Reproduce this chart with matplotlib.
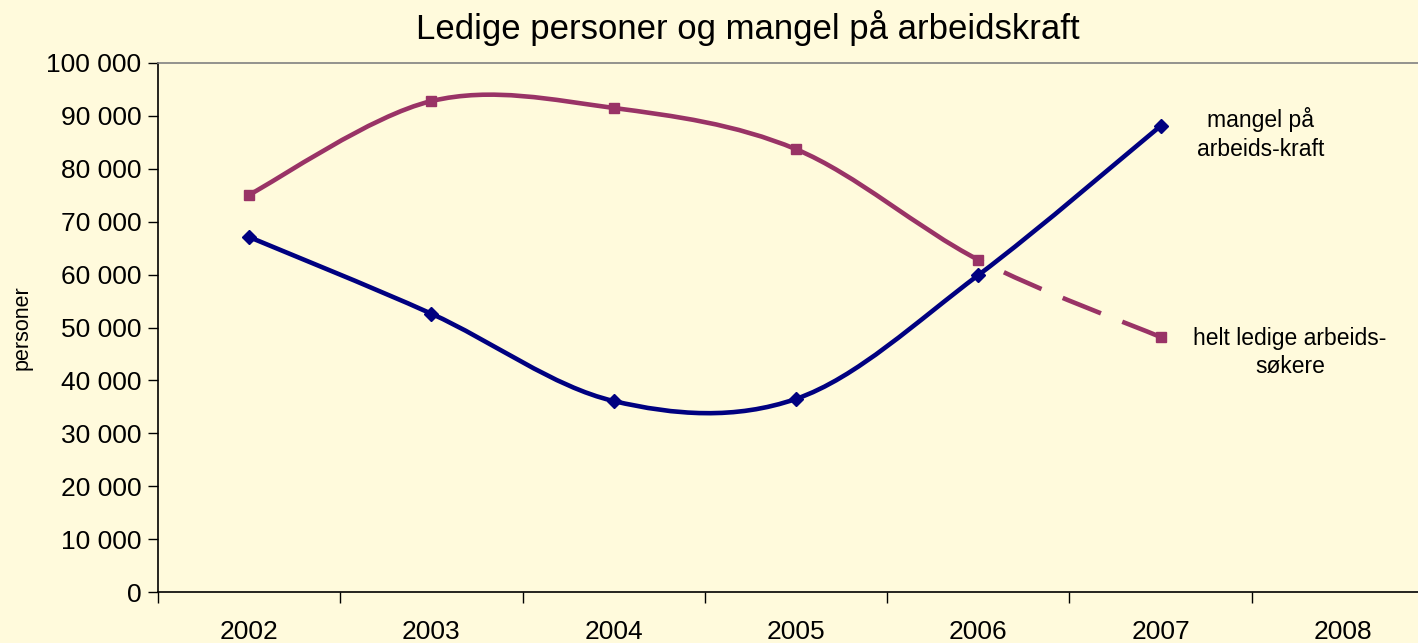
import numpy as np
import matplotlib.pyplot as plt
from matplotlib.path import Path
from matplotlib.patches import PathPatch

plt.rcParams['font.family'] = ['Liberation Sans', 'DejaVu Sans']

years = ['2002', '2003', '2004', '2005', '2006', '2007', '2008']
mangel = [67100, 52600, 36100, 36500, 59900, 88100]
ledige = [75100, 92800, 91500, 83700, 62800, 48200]

BG = '#FFFADC'
BLUE = '#000080'
PURPLE = '#993366'


def smooth_segments(xs, ys):
    """Catmull-Rom style bezier segments, like Excel's smoothed lines"""
    pts = np.column_stack([xs, ys]).astype(float)
    n = len(pts)
    segs = []
    for i in range(n - 1):
        p0 = pts[max(i - 1, 0)]
        p1 = pts[i]
        p2 = pts[i + 1]
        p3 = pts[min(i + 2, n - 1)]
        c1 = p1 + (p2 - p0) / 6.0
        c2 = p2 - (p3 - p1) / 6.0
        segs.append((p1, c1, c2, p2))
    return segs


def seg_path(segs):
    verts = [segs[0][0]]
    codes = [Path.MOVETO]
    for p1, c1, c2, p2 in segs:
        verts += [c1, c2, p2]
        codes += [Path.CURVE4] * 3
    return Path(verts, codes)


fig = plt.figure(figsize=(14.18, 6.43), dpi=100)
fig.patch.set_facecolor(BG)
ax = fig.add_axes([158 / 1418, 51 / 643, 1276 / 1418, 529 / 643])
ax.set_facecolor(BG)

x = np.arange(len(mangel))

# blue series
segs_b = smooth_segments(x, mangel)
ax.add_patch(PathPatch(seg_path(segs_b), fill=False, edgecolor=BLUE, lw=3.3, capstyle='round', joinstyle='round', zorder=3))
ax.plot(x, mangel, linestyle='none', marker='D', ms=7, color=BLUE, zorder=4)

# purple series, last segment dashed (drawn backwards so the dash meets the 2007 marker)
segs_p = smooth_segments(x, ledige)
ax.add_patch(PathPatch(seg_path(segs_p[:-1]), fill=False, edgecolor=PURPLE, lw=3.3, capstyle='round', joinstyle='round', zorder=3))
p1, c1, c2, p2 = segs_p[-1]
ax.add_patch(PathPatch(seg_path([(p2, c2, c1, p1)]), fill=False, edgecolor=PURPLE, lw=3.3, linestyle=(0, (9, 5)), zorder=3))
ax.plot(x, ledige, linestyle='none', marker='s', ms=7.5, color=PURPLE, zorder=4)

ax.set_xlim(-0.5, len(years) - 0.5)
ax.set_ylim(0, 100000)
ax.set_yticks(np.arange(0, 100001, 10000))
ax.set_yticklabels([f"{v:,}".replace(',', ' ') for v in range(0, 100001, 10000)])
ax.set_xticks(np.arange(len(years)))
ax.set_xticklabels(years)
ax.set_xticks(np.arange(-0.5, len(years), 1), minor=True)
ax.tick_params(axis='x', which='major', length=0, pad=20, labelsize=19)
ax.tick_params(axis='x', which='minor', length=8, width=1, direction='out')
ax.tick_params(axis='y', length=7, width=1, direction='out', labelsize=19, pad=5)

for s in ['left', 'bottom']:
    ax.spines[s].set_color('#000000')
    ax.spines[s].set_linewidth(1.2)
ax.spines['top'].set_color('#808080')
ax.spines['top'].set_linewidth(1.2)
ax.spines['right'].set_visible(False)

ax.set_ylabel('personer', fontsize=15.5, labelpad=10)
fig.text(748 / 1418, 1 - 28 / 643, 'Ledige personer og mangel på arbeidskraft', ha='center', va='center', fontsize=25)

ax.text(5.55, 86600, 'mangel på\narbeids-kraft', ha='center', va='center', fontsize=16.5, linespacing=1.3)
ax.text(5.71, 45300, 'helt ledige arbeids-\nsøkere', ha='center', va='center', fontsize=16.5, linespacing=1.3)

fig.savefig('out.png', dpi=100, facecolor=BG)
